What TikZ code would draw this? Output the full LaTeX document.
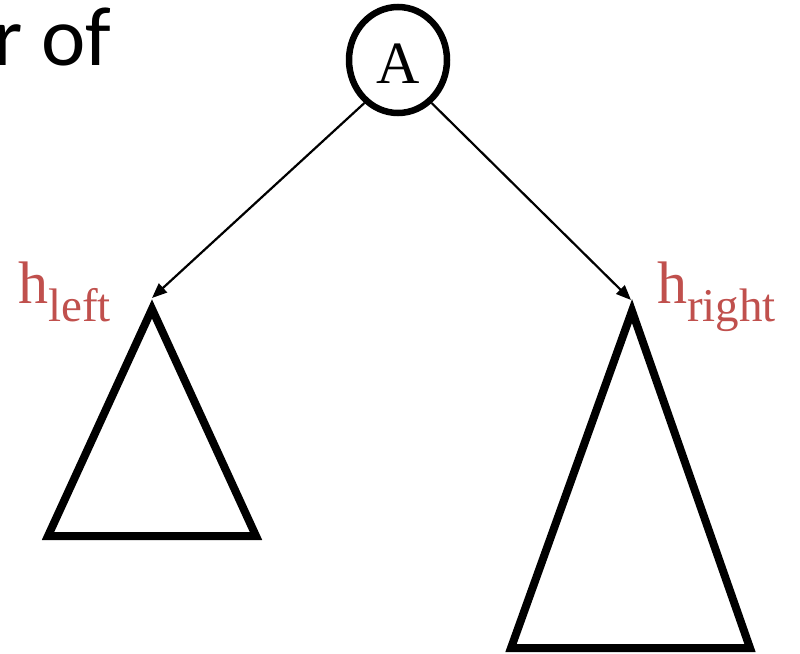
\documentclass[tikz,border=0pt]{standalone}
\usepackage{fontspec}
\setmainfont{Liberation Serif}
\newfontfamily\calib{Carlito}
\usetikzlibrary{arrows.meta,shapes.geometric}
\definecolor{hred}{HTML}{C0504D}
\begin{document}
\begin{tikzpicture}[x=1pt,y=-1pt,
  tri/.style={draw=black,line width=8pt,line join=miter,miter limit=20},
  conn/.style={draw=black,line width=2.2pt,-{Triangle[length=15pt,width=12pt]}},
  hlabel/.style={anchor=base west,inner sep=0,text=hred}]
\useasboundingbox (0,0) rectangle (800,653);
\node[anchor=base west,inner sep=0] (title) at (-7,65) {\calib\fontsize{84}{84}\selectfont r of};
\node[draw=black,line width=6.5pt,ellipse,minimum width=98pt,minimum height=106pt,inner sep=0,
  text height=46pt,text depth=0pt] (A) at (398,60) {\fontsize{60}{60}\selectfont A};
\coordinate (tipL) at (152,298);
\coordinate (tipR) at (631,300);
\draw[tri] (152,309) -- (48,536) -- (256,536) -- cycle;
\draw[tri] (632,311) -- (511,648) -- (750,648) -- cycle;
\draw[conn] (A.-128) -- (tipL);
\draw[conn] (A.-52) -- (tipR);
\node[hlabel] (hl) at (18,303) {\fontsize{60}{60}\selectfont h\raisebox{-18pt}{\fontsize{47}{47}\selectfont left}};
\node[hlabel] (hr) at (657,303) {\fontsize{60}{60}\selectfont h\raisebox{-18pt}{\fontsize{47}{47}\selectfont right}};
\end{tikzpicture}
\end{document}
